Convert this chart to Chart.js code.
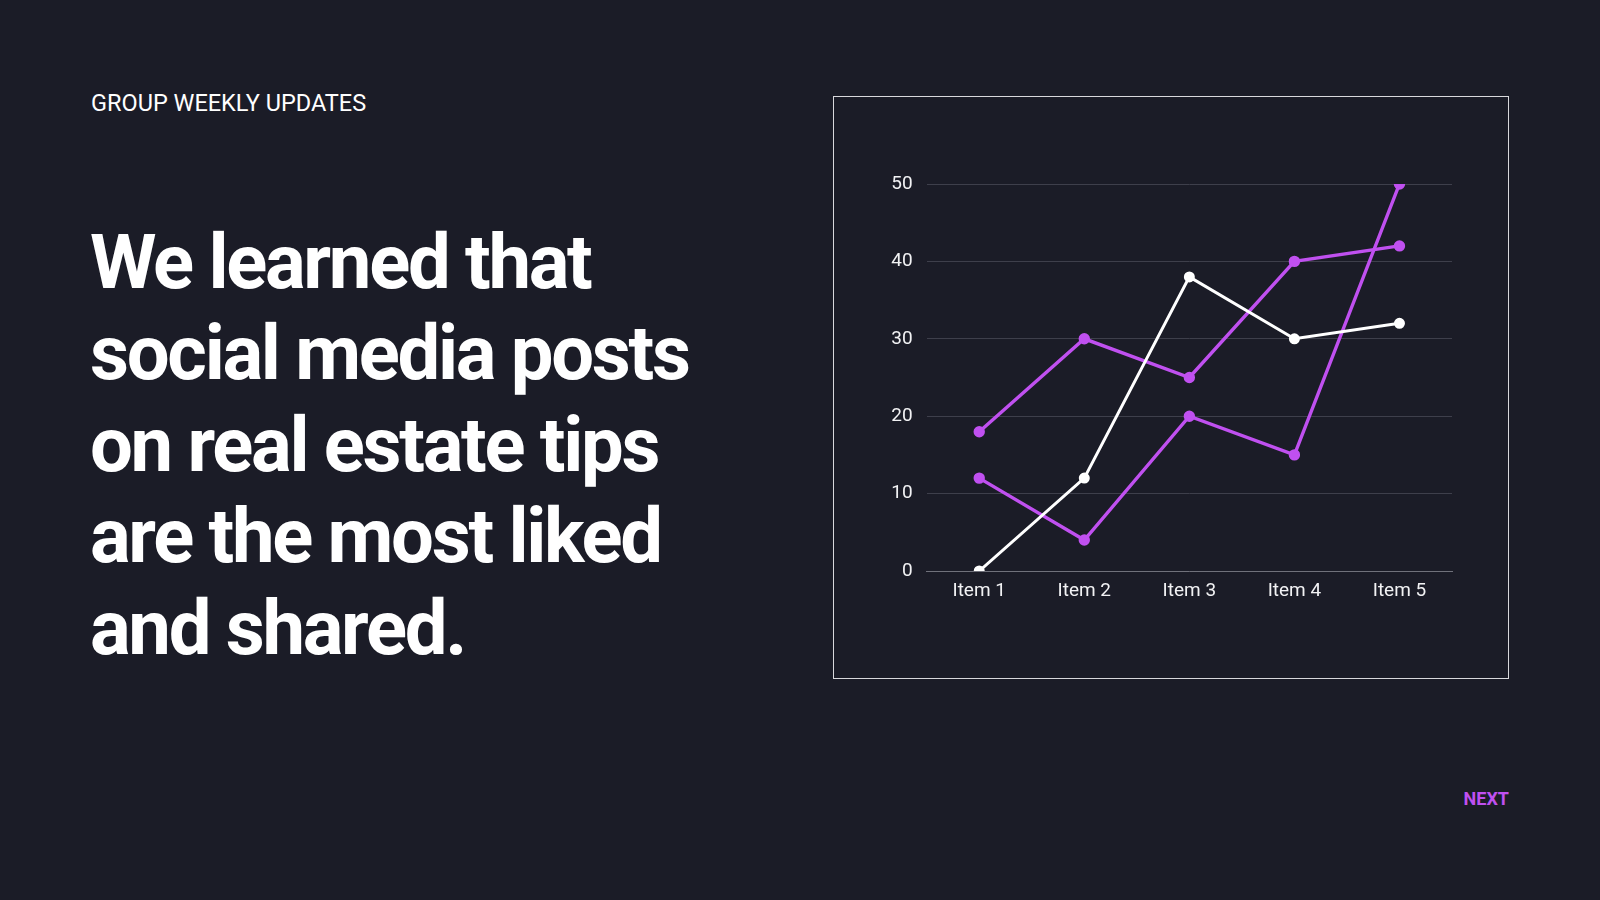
<!DOCTYPE html>
<html>
<head>
<meta charset="utf-8">
<script src="https://cdn.jsdelivr.net/npm/chart.js@4"></script>
<style>
  html, body { margin: 0; padding: 0; }
  body {
    width: 1600px; height: 900px; overflow: hidden;
    background: #1b1c27; font-family: Roboto, "Noto Sans", sans-serif; color: #fff;
    position: relative;
  }
  .kicker { position: absolute; left: 91px; top: 89px; font-size: 23.5px; }
  .headline {
    position: absolute; left: 90px; top: 217px; width: 680px;
    font-size: 76px; font-weight: 700; line-height: 91.4px; letter-spacing: -2.3px;
  }
  .next {
    position: absolute; right: 91px; top: 788px; font-size: 18px; font-weight: 700; color: #c050f0;
  }
  .box {
    position: absolute; left: 833px; top: 96px; width: 674px; height: 581px;
    border: 1px solid #d8d8dc;
  }
  .box canvas { display: block; }
</style>
</head>
<body>
<div class="kicker">GROUP WEEKLY UPDATES</div>
<div class="headline">We learned that social media posts on real estate tips are the most liked and shared.</div>
<div class="next">NEXT</div>
<div class="box"><canvas id="myChart" width="674" height="581"></canvas></div>
<script>
// categories + series
const labels = ['Item 1', 'Item 2', 'Item 3', 'Item 4', 'Item 5'];
const seriesWhite = [0, 12, 38, 30, 32];
const seriesPurpleA = [18, 30, 25, 40, 42];
const seriesPurpleB = [12, 4, 20, 15, 50];
const yTicks = [0, 10, 20, 30, 40, 50];

const purple = '#c050f0';
const white = '#ffffff';

function line(name, values, color, width) {
  return {
    label: name,
    data: values,
    borderColor: color,
    backgroundColor: color,
    pointBackgroundColor: color,
    pointBorderColor: color,
    pointRadius: 4,
    borderWidth: width,
    tension: 0
  };
}

const data = {
  labels: labels,
  datasets: [
    line('Series 1', seriesWhite, white, 3),
    line('Series 2', seriesPurpleA, purple, 3.4),
    line('Series 3', seriesPurpleB, purple, 3.4)
  ]
};

const config = {
  type: 'line',
  data: data,
  options: {
    responsive: false,
    animation: false,
    layout: { padding: { top: 87, right: 56, left: 0, bottom: 0 } },
    plugins: { legend: { display: false }, tooltip: { enabled: false } },
    scales: {
      x: {
        offset: true,
        grid: { display: false, drawTicks: false },
        border: { display: true, color: '#70717b', width: 1 },
        ticks: { color: '#f2f2f4', font: { family: 'Roboto', size: 19 }, padding: 9 },
        afterFit: (axis) => { axis.height = 107; }
      },
      y: {
        min: 0,
        max: 50,
        afterBuildTicks: (axis) => { axis.ticks = yTicks.map(v => ({ value: v })); },
        grid: { color: '#3e3f4b', drawTicks: false },
        border: { display: false },
        ticks: { color: '#f2f2f4', font: { family: 'Roboto', size: 19 }, padding: 14 },
        afterFit: (axis) => { axis.width = 92.7; }
      }
    }
  }
};

new Chart(document.getElementById('myChart'), config);
</script>
</body>
</html>
